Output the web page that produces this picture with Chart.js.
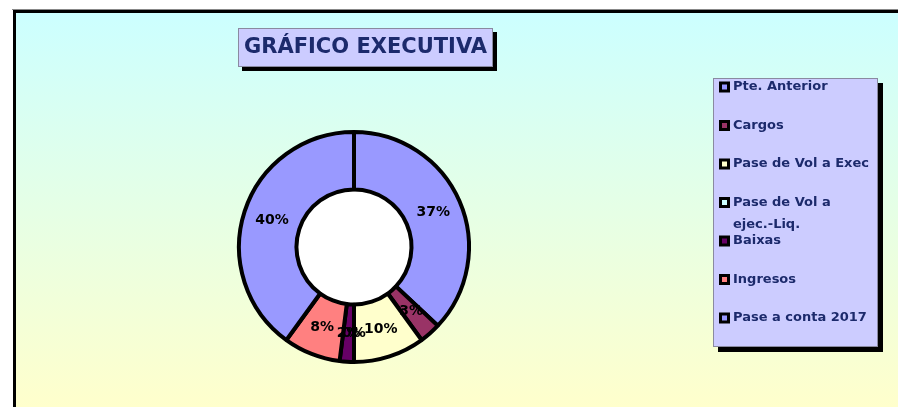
<!DOCTYPE html>
<html>
<head>
<meta charset="utf-8">
<script src="https://cdn.jsdelivr.net/npm/chart.js@4"></script>
<style>
  html, body { margin: 0; padding: 0; background: #fff; }
  canvas { display: block; }
</style>
</head>
<body>
<canvas id="chart" width="898" height="407"></canvas>
<script>
'use strict';

const chartTitle = 'GRÁFICO EXECUTIVA';
const categories = ['Pte. Anterior', 'Cargos', 'Pase de Vol a Exec', 'Pase de Vol a ejec.-Liq.', 'Baixas', 'Ingresos', 'Pase a conta 2017'];
const values = [37, 3, 10, 0, 2, 8, 40];
const colors = ['#9999ff', '#993366', '#ffffcc', '#ccffff', '#660066', '#ff8080', '#9999ff'];

const FONT = '"DejaVu Sans", sans-serif';
const NAVY = '#1c2a6c';

function wrapText(c, text, maxWidth){
    const words = text.split(' ');
    const lines = [];
    let line = '';
    words.forEach(function(w){
        const test = line ? line + ' ' + w : w;
        if(c.measureText(test).width > maxWidth && line){
            lines.push(line);
            line = w;
        }else{
            line = test;
        }
    });
    lines.push(line);
    return lines;
}

// background, frame, title box and legend box
const decor = {
    id: 'decor',
    beforeDraw(chart){
        const c = chart.ctx;
        c.save();
        c.fillStyle = '#fff';
        c.fillRect(0, 0, chart.width, chart.height);

        const grad = c.createLinearGradient(0, 13, 0, 407);
        grad.addColorStop(0, '#ccffff');
        grad.addColorStop(1, '#ffffcc');
        c.fillStyle = grad;
        c.fillRect(13, 10, chart.width, chart.height);

        c.fillStyle = '#888';
        c.fillRect(12, 9, chart.width, 1);
        c.fillStyle = '#000';
        c.fillRect(13, 10, chart.width, 3);
        c.fillRect(13, 10, 3, chart.height);

        // title box
        c.fillStyle = '#000';
        c.fillRect(242, 32, 255, 39);
        c.fillStyle = '#ccccff';
        c.fillRect(238, 28, 255, 39);
        c.strokeStyle = '#8a8aa0';
        c.lineWidth = 1;
        c.strokeRect(238.5, 28.5, 254, 38);
        c.fillStyle = NAVY;
        c.font = 'bold 21px ' + FONT;
        c.textAlign = 'center';
        c.textBaseline = 'middle';
        c.fillText(chartTitle, 365.5, 48);

        // legend box
        c.fillStyle = '#000';
        c.fillRect(718, 83, 165, 269);
        c.fillStyle = '#ccccff';
        c.fillRect(713, 78, 165, 269);
        c.strokeStyle = '#8a8aa0';
        c.strokeRect(713.5, 78.5, 164, 268);

        c.font = 'bold 13px ' + FONT;
        c.textAlign = 'left';
        categories.forEach(function(name, i){
            const y = 87 + i * 38.5;
            c.fillStyle = '#000';
            c.fillRect(719, y - 5.5, 11, 11);
            c.fillStyle = colors[i];
            c.fillRect(722, y - 2.5, 5, 5);
            c.fillStyle = NAVY;
            wrapText(c, name, 142).forEach(function(line, k){
                c.fillText(line, 733, y + k * 22);
            });
        });
        c.restore();
    },
    beforeDatasetsDraw(chart){
        const arc = chart.getDatasetMeta(0).data[0];
        const c = chart.ctx;
        c.save();
        c.fillStyle = '#fff';
        c.beginPath();
        c.arc(arc.x, arc.y, arc.innerRadius, 0, Math.PI * 2);
        c.fill();
        c.restore();
    },
    afterDatasetsDraw(chart){
        const c = chart.ctx;
        const meta = chart.getDatasetMeta(0);
        const total = values.reduce((a, b) => a + b, 0);
        c.save();
        c.fillStyle = '#000';
        c.font = 'bold 14px ' + FONT;
        c.textAlign = 'center';
        c.textBaseline = 'middle';
        meta.data.forEach(function(arc, i){
            const mid = (arc.startAngle + arc.endAngle) / 2;
            const r = (arc.innerRadius + arc.outerRadius) / 2;
            const pct = Math.round(values[i] / total * 100) + '%';
            c.fillText(pct, arc.x + Math.cos(mid) * r, arc.y + Math.sin(mid) * r);
        });
        c.restore();
    }
};

const ctx = document.getElementById('chart');

const grafico = new Chart(ctx, {
    type: 'doughnut',
    data: {
        labels: categories,
        datasets: [{
            data: values,
            backgroundColor: colors,
            borderColor: '#000',
            borderWidth: 4,
        }]
    },
    options: {
        responsive: false,
        animation: false,
        devicePixelRatio: 1,
        cutout: '50%',
        layout: {
            padding: { left: 237, right: 427, top: 130, bottom: 43 }
        },
        plugins: {
            legend: { display: false },
            title: { display: false },
            tooltip: { enabled: false }
        }
    },
    plugins: [decor]
});
</script>
</body>
</html>
